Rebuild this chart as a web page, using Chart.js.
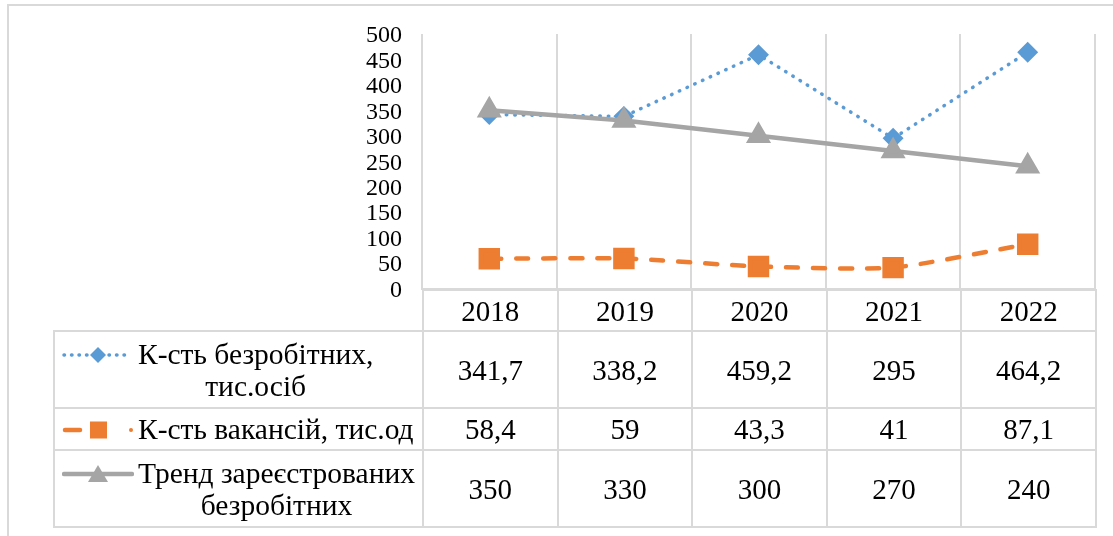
<!DOCTYPE html>
<html lang="uk">
<head>
<meta charset="utf-8">
<title>Безробіття та вакансії</title>
<script src="https://cdn.jsdelivr.net/npm/chart.js@4.4.1/dist/chart.umd.min.js"></script>
<style>
    html, body {
        margin: 0;
        padding: 0;
        width: 1113px;
        height: 536px;
        overflow: hidden;
        background: #fff;
        font-family: 'Times New Roman', 'Liberation Serif', serif;
    }
    .frame {
        position: absolute;
        left: 7px;
        top: 4px;
        width: 1200px;
        height: 600px;
        border-left: 2px solid #d9d9d9;
        border-top: 2px solid #d9d9d9;
    }
    .chart-box {
        position: absolute;
        left: 0;
        top: 0;
        width: 1113px;
        height: 305px;
    }
    #dataTable {
        position: absolute;
        top: 289px;
        left: 53px;
        border-collapse: collapse;
        table-layout: fixed;
        font-size: 29px;
        line-height: 32px;
        color: #000;
    }
    #dataTable td {
        border: 2px solid #d9d9d9;
        padding: 0;
        text-align: center;
        vertical-align: middle;
        white-space: nowrap;
    }
    #dataTable td.blank {
        border-top: none;
        border-left: none;
    }
    .lg {
        display: flex;
        align-items: flex-start;
        padding-left: 7px;
    }
    .lg svg {
        flex: none;
        margin-top: 6px;
        margin-right: 4px;
    }
    .lg .lt {
        text-align: center;
        font-size: 29.5px;
    }
</style>
</head>
<body>
<div class="frame"></div>
<div class="chart-box"><canvas id="lineChart"></canvas></div>
<table id="dataTable"></table>

<script>
// ---- chart data ----
const years = ['2018', '2019', '2020', '2021', '2022'];
const unemployed = [341.7, 338.2, 459.2, 295, 464.2];
const vacancies = [58.4, 59, 43.3, 41, 87.1];
const trend = [350, 330, 300, 270, 240];
const seriesNames = [
    ['К-сть безробітних,', 'тис.осіб'],
    ['К-сть вакансій, тис.од'],
    ['Тренд зареєстрованих', 'безробітних']
];
const yTicks = { min: 0, max: 500, step: 50 };

const FONT = "'Times New Roman', 'Liberation Serif', serif";
const BLUE = '#5b9bd5';
const ORANGE = '#ed7d31';
const GRAY = '#a5a5a5';
const GRID = '#d9d9d9';

// legend keys for the data table
const legendKeys = [
    `<svg width="72" height="22"><line x1="2" y1="11" x2="64" y2="11" stroke="${BLUE}" stroke-width="3.5" stroke-linecap="round" stroke-dasharray="0.5 7"/>
      <polygon points="36,3 44,11 36,19 28,11" fill="${BLUE}"/></svg>`,
    `<svg width="72" height="22"><line x1="3" y1="11" x2="18" y2="11" stroke="${ORANGE}" stroke-width="4.5" stroke-linecap="round"/>
      <rect x="28" y="2.5" width="17" height="17" fill="${ORANGE}"/>
      <circle cx="69" cy="11" r="2" fill="${ORANGE}"/></svg>`,
    `<svg width="72" height="22"><line x1="2" y1="11" x2="70" y2="11" stroke="${GRAY}" stroke-width="4.5" stroke-linecap="round"/>
      <polygon points="36,2 46,19 26,19" fill="${GRAY}"/></svg>`
];

function fmt(v) {
    return String(v).replace('.', ',');
}

/**
 * Build the data table under the plot
 */
function buildTable() {
    const table = document.getElementById('dataTable');
    const rows = [unemployed, vacancies, trend];
    const heights = [77, 42, 77];

    let html = '<colgroup><col>' + years.map(() => '<col>').join('') + '</colgroup>';
    html += '<tr style="height:41px"><td class="blank"></td>' + years.map(y => `<td>${y}</td>`).join('') + '</tr>';
    rows.forEach((vals, i) => {
        html += `<tr style="height:${heights[i]}px"><td><div class="lg">${legendKeys[i]}<div class="lt">${seriesNames[i].join('<br>')}</div></div></td>`;
        html += vals.map(v => `<td>${fmt(v)}</td>`).join('') + '</tr>';
    });
    table.innerHTML = html;
}

// keep table columns lined up with the category bands of the x axis
const syncTable = {
    id: 'syncTable',
    afterLayout(chart) {
        const x = chart.scales.x;
        const half = (x.getPixelForValue(1) - x.getPixelForValue(0)) / 2;
        const table = document.getElementById('dataTable');
        const cols = table.querySelectorAll('col');
        const tableLeft = 53;
        const left0 = x.getPixelForValue(0) - half;
        cols[0].style.width = (left0 - tableLeft) + 'px';
        for (let i = 1; i < cols.length; i++) {
            cols[i].style.width = (2 * half) + 'px';
        }
        table.style.width = (x.getPixelForValue(years.length - 1) + half - tableLeft) + 'px';
    }
};

buildTable();

new Chart(document.getElementById('lineChart'), {
    type: 'line',
    data: {
        labels: years,
        datasets: [
            {
                label: seriesNames[0].join(' '),
                data: unemployed,
                borderColor: BLUE,
                backgroundColor: BLUE,
                borderWidth: 3.5,
                borderDash: [0.5, 8],
                borderCapStyle: 'round',
                pointStyle: 'rectRot',
                pointRadius: 8,
                pointHoverRadius: 8,
                order: 1
            },
            {
                label: seriesNames[1].join(' '),
                data: vacancies,
                borderColor: ORANGE,
                backgroundColor: ORANGE,
                borderWidth: 4.5,
                borderDash: [12, 15],
                borderCapStyle: 'round',
                pointStyle: 'rect',
                pointRadius: 12,
                pointHoverRadius: 12,
                tension: 0.2,
                order: 2
            },
            {
                label: seriesNames[2].join(' '),
                data: trend,
                borderColor: GRAY,
                backgroundColor: GRAY,
                borderWidth: 4.5,
                pointStyle: 'triangle',
                pointRadius: 10,
                pointHoverRadius: 10,
                order: 0
            }
        ]
    },
    options: {
        responsive: true,
        maintainAspectRatio: false,
        animation: false,
        layout: {
            padding: { top: 34, right: 18, bottom: 15, left: 0 }
        },
        plugins: {
            legend: { display: false },
            tooltip: { enabled: false }
        },
        scales: {
            x: {
                offset: true,
                grid: { offset: true, color: GRID, lineWidth: 2, drawTicks: false },
                border: { color: GRID, width: 2 },
                ticks: { display: false }
            },
            y: {
                min: yTicks.min,
                max: yTicks.max,
                // tick marks are hidden; tickLength only moves the labels off the axis
                grid: { display: false, drawTicks: true, tickLength: 20 },
                border: { display: false },
                ticks: {
                    stepSize: yTicks.step,
                    autoSkip: false,
                    padding: 0,
                    labelOffset: 2,
                    color: '#000',
                    font: { family: FONT, size: 24 }
                },
                afterFit(scale) {
                    scale.width = 422;
                }
            }
        }
    },
    plugins: [syncTable]
});
</script>
</body>
</html>
